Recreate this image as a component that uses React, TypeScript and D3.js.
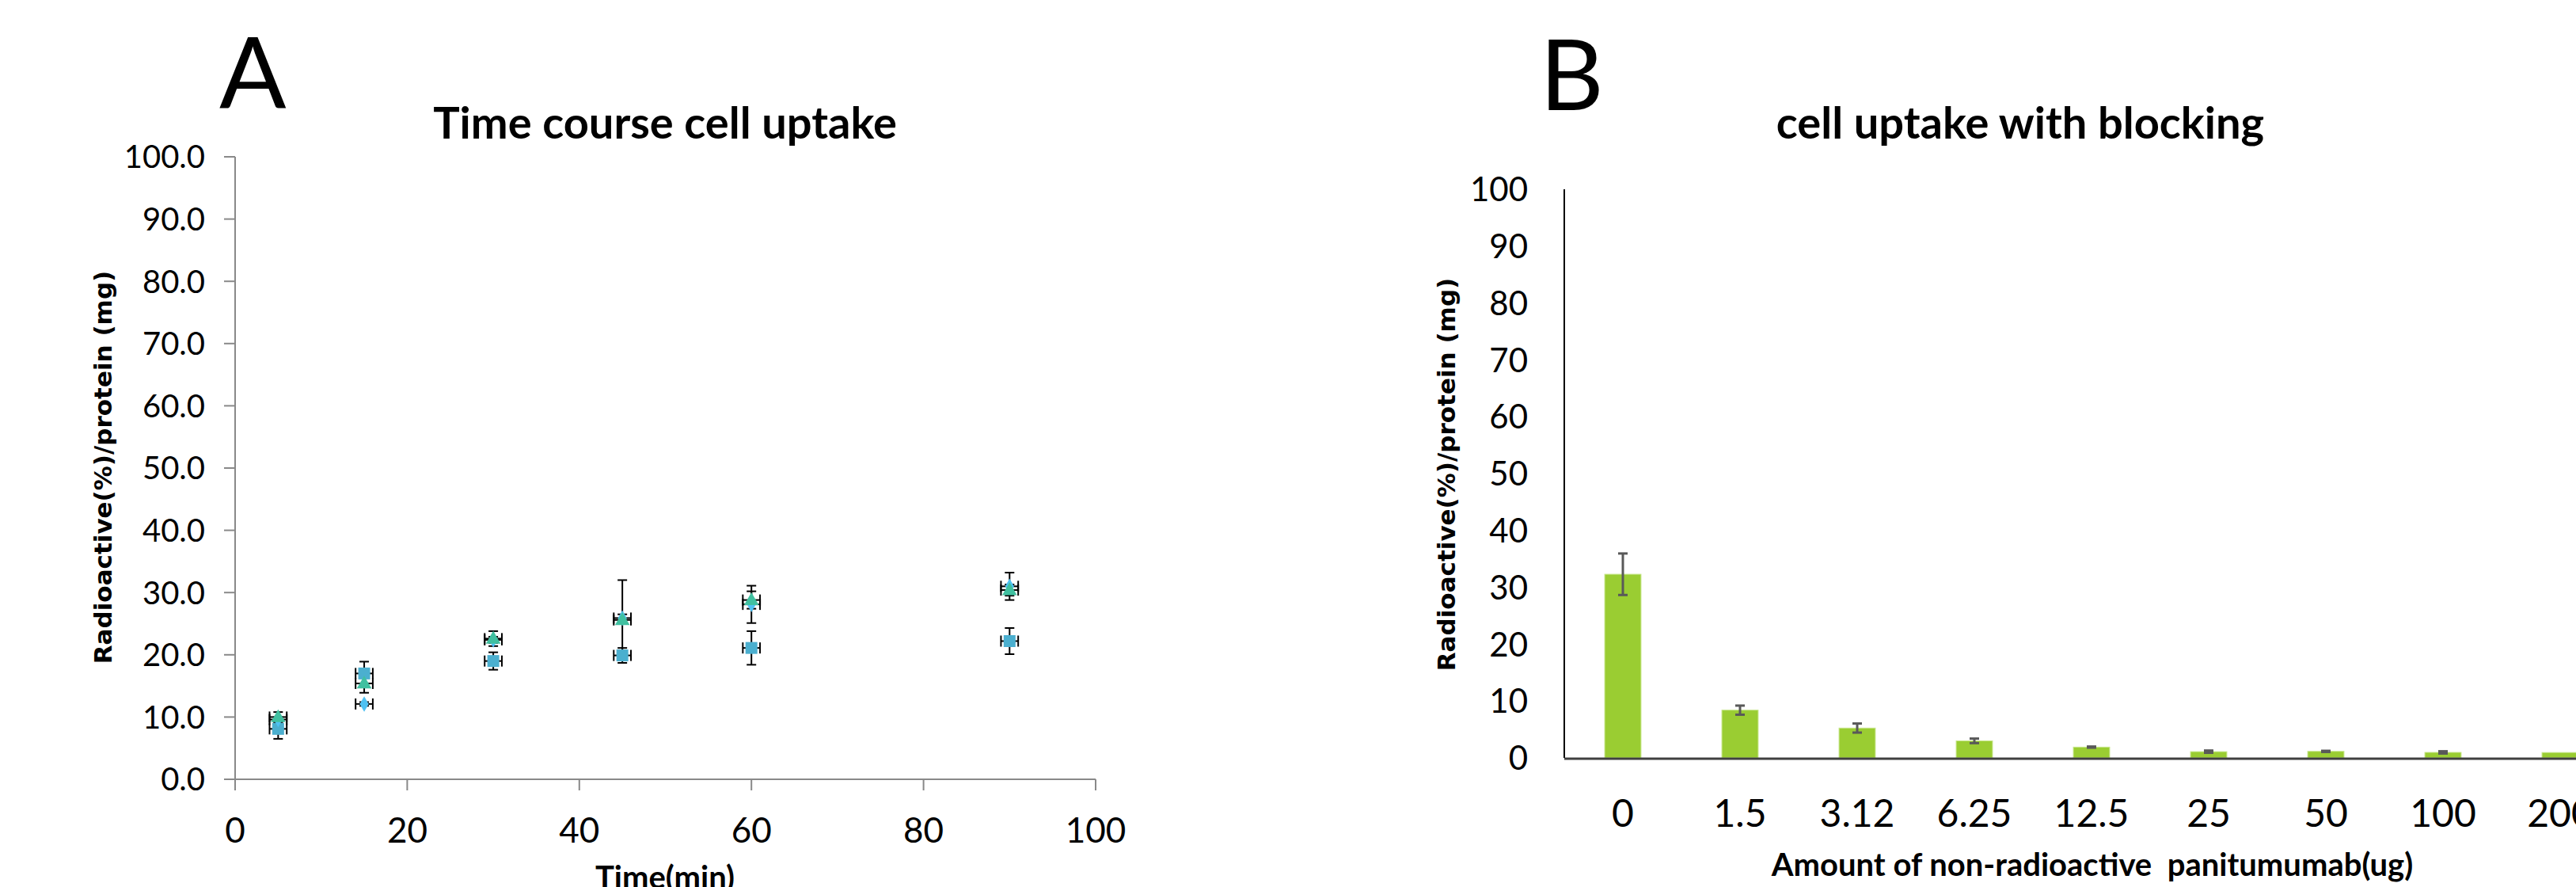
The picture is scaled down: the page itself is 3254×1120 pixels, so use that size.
import React from "react";
import * as d3 from "d3";

// Panel A: time course
const times = [5, 15, 30, 45, 60, 90];
const timeErr = 1;
const squareVals = [8.1, 17.0, 19.0, 19.9, 21.1, 22.2];
const squareErr = [1.6, 1.9, 1.4, 1.2, 2.7, 2.1];
const diamondVals = [9.6, 12.1, 22.4, 25.9, 28.1, 31.0];
const diamondErr = [0.4, 0.3, 0.5, 0.6, 3.0, 2.2];
const triangleVals = [10.0, 15.4, 22.6, 25.6, 28.8, 30.4];
const triangleErr = [0.8, 1.5, 1.2, 6.4, 1.4, 0.9];
const xTicksA = [0, 20, 40, 60, 80, 100];
const yTicksA = [0, 10, 20, 30, 40, 50, 60, 70, 80, 90, 100];

// Panel B: blocking
const doses = ["0", "1.5", "3.12", "6.25", "12.5", "25", "50", "100", "200"];
const uptake = [32.3, 8.4, 5.25, 3.0, 1.9, 1.1, 1.15, 0.97, 0.95];
const uptakeErr = [3.65, 0.8, 0.8, 0.4, 0.1, 0.2, 0.1, 0.2, 0];
const yTicksB = [0, 10, 20, 30, 40, 50, 60, 70, 80, 90, 100];

const W = 3254;
const H = 1120;
const tickFont = "Lato, 'Open Sans', sans-serif";
const wideBold = "'DejaVu Sans', Verdana, sans-serif";

const ErrBars = ({ xs, ys, errs, x, y, xErr }) => (
  <g stroke="#000" strokeWidth={2}>
    {xs.map((t, i) => {
      const cx = x(t);
      const top = y(ys[i] + errs[i]);
      const bot = y(ys[i] - errs[i]);
      const cy = y(ys[i]);
      const l = x(t - xErr);
      const r = x(t + xErr);
      return (
        <g key={i}>
          <line x1={cx} x2={cx} y1={top} y2={bot} />
          <line x1={cx - 6} x2={cx + 6} y1={top} y2={top} />
          <line x1={cx - 6} x2={cx + 6} y1={bot} y2={bot} />
          <line x1={l} x2={r} y1={cy} y2={cy} />
          <line x1={l} x2={l} y1={cy - 7} y2={cy + 7} />
          <line x1={r} x2={r} y1={cy - 7} y2={cy + 7} />
        </g>
      );
    })}
  </g>
);

const PanelA = () => {
  const x = d3.scaleLinear().domain([0, 100]).range([297, 1384]);
  const y = d3.scaleLinear().domain([0, 100]).range([984, 198]);
  const sq = d3.symbol().type(d3.symbolSquare).size(15 * 15)();
  const tri = d3.symbol().type(d3.symbolTriangle).size(150)();
  const dia = d3.symbol().type(d3.symbolDiamond).size(110)();

  return (
    <g>
      <text x={277} y={136} fontFamily={tickFont} fontSize={125}>A</text>
      <text x={840} y={175} textAnchor="middle" fontFamily={tickFont} fontWeight="bold" fontSize={56}>
        Time course cell uptake
      </text>

      {/* axes */}
      <g stroke="#898989" strokeWidth={2}>
        <line x1={x(0)} x2={x(0)} y1={y(100)} y2={y(0) + 14} />
        <line x1={x(0)} x2={x(100)} y1={y(0)} y2={y(0)} />
        {yTicksA.map((t) => (
          <line key={t} x1={x(0) - 14} x2={x(0)} y1={y(t)} y2={y(t)} />
        ))}
        {xTicksA.map((t) => (
          <line key={t} x1={x(t)} x2={x(t)} y1={y(0)} y2={y(0) + 14} />
        ))}
      </g>
      {yTicksA.map((t) => (
        <text key={t} x={259} y={y(t)} dy="0.36em" textAnchor="end" fontFamily={tickFont} fontSize={40}>
          {d3.format(".1f")(t)}
        </text>
      ))}
      {xTicksA.map((t) => (
        <text key={t} x={x(t)} y={1064} textAnchor="middle" fontFamily={tickFont} fontSize={44}>
          {t}
        </text>
      ))}
      <text x={840} y={1122} textAnchor="middle" fontFamily={tickFont} fontWeight="bold" fontSize={40}>
        Time(min)
      </text>
      <text
        transform={`translate(141,590) rotate(-90)`}
        textAnchor="middle"
        fontFamily={wideBold}
        fontWeight="bold"
        fontSize={31}
      >
        Radioactive(%)/protein (mg)
      </text>

      <ErrBars xs={times} ys={squareVals} errs={squareErr} x={x} y={y} xErr={timeErr} />
      <ErrBars xs={times} ys={diamondVals} errs={diamondErr} x={x} y={y} xErr={timeErr} />
      <ErrBars xs={times} ys={triangleVals} errs={triangleErr} x={x} y={y} xErr={timeErr} />

      {times.map((t, i) => (
        <path key={"s" + i} d={sq} transform={`translate(${x(t)},${y(squareVals[i])})`} fill="#4BAFCF" />
      ))}
      {times.map((t, i) => (
        <path key={"d" + i} d={dia} transform={`translate(${x(t)},${y(diamondVals[i])})`} fill="#4FC1F2" />
      ))}
      {times.map((t, i) => (
        <path key={"t" + i} d={tri} transform={`translate(${x(t)},${y(triangleVals[i]) + 1})`} fill="#40C0A0" />
      ))}
    </g>
  );
};

const PanelB = () => {
  const x = d3
    .scaleBand()
    .domain(doses)
    .range([1976, 1976 + 148 * doses.length])
    .paddingInner(0.69)
    .paddingOuter(0.345);
  const y = d3.scaleLinear().domain([0, 100]).range([957, 239]);

  return (
    <g>
      <text x={1945} y={139} fontFamily={tickFont} fontSize={125}>B</text>
      <text x={2552} y={175} textAnchor="middle" fontFamily={tickFont} fontWeight="bold" fontSize={56}>
        cell uptake with blocking
      </text>

      {doses.map((d, i) => (
        <rect
          key={d}
          x={x(d)}
          y={y(uptake[i])}
          width={x.bandwidth()}
          height={y(0) - y(uptake[i])}
          fill="#9ACD32"
          stroke="#C6E68A"
          strokeWidth={1}
        />
      ))}
      <g stroke="#595959" strokeWidth={3}>
        {doses.map((d, i) => {
          if (!uptakeErr[i]) return null;
          const cx = x(d) + x.bandwidth() / 2;
          const top = y(uptake[i] + uptakeErr[i]);
          const bot = y(uptake[i] - uptakeErr[i]);
          return (
            <g key={d}>
              <line x1={cx} x2={cx} y1={top} y2={bot} />
              <line x1={cx - 6} x2={cx + 6} y1={top} y2={top} />
              <line x1={cx - 6} x2={cx + 6} y1={bot} y2={bot} />
            </g>
          );
        })}
      </g>

      <line x1={1976} x2={1976} y1={y(100)} y2={y(0)} stroke="#000" strokeWidth={2} />
      <line x1={1976} x2={W} y1={y(0) + 1} y2={y(0) + 1} stroke="#404040" strokeWidth={3} />

      {yTicksB.map((t) => (
        <text key={t} x={1930} y={y(t)} dy="0.36em" textAnchor="end" fontFamily={tickFont} fontSize={42}>
          {t}
        </text>
      ))}
      {doses.map((d) => (
        <text key={d} x={x(d) + x.bandwidth() / 2} y={1044} textAnchor="middle" fontFamily={tickFont} fontSize={48}>
          {d}
        </text>
      ))}
      <text x={2643} y={1106} textAnchor="middle" fontFamily={tickFont} fontWeight="bold" fontSize={40} xmlSpace="preserve">
        Amount of non-radioactive  panitumumab(ug)
      </text>
      <text
        transform={`translate(1838,599) rotate(-90)`}
        textAnchor="middle"
        fontFamily={wideBold}
        fontWeight="bold"
        fontSize={31}
      >
        Radioactive(%)/protein (mg)
      </text>
    </g>
  );
};

const App = () => (
  <div style={{ position: "absolute", left: 0, top: 0, width: W, height: H, overflow: "hidden" }}>
    <svg width={W} height={H} style={{ display: "block", background: "#fff" }}>
      <rect width={W} height={H} fill="#fff" />
      <PanelA />
      <PanelB />
    </svg>
  </div>
);

export default App;
